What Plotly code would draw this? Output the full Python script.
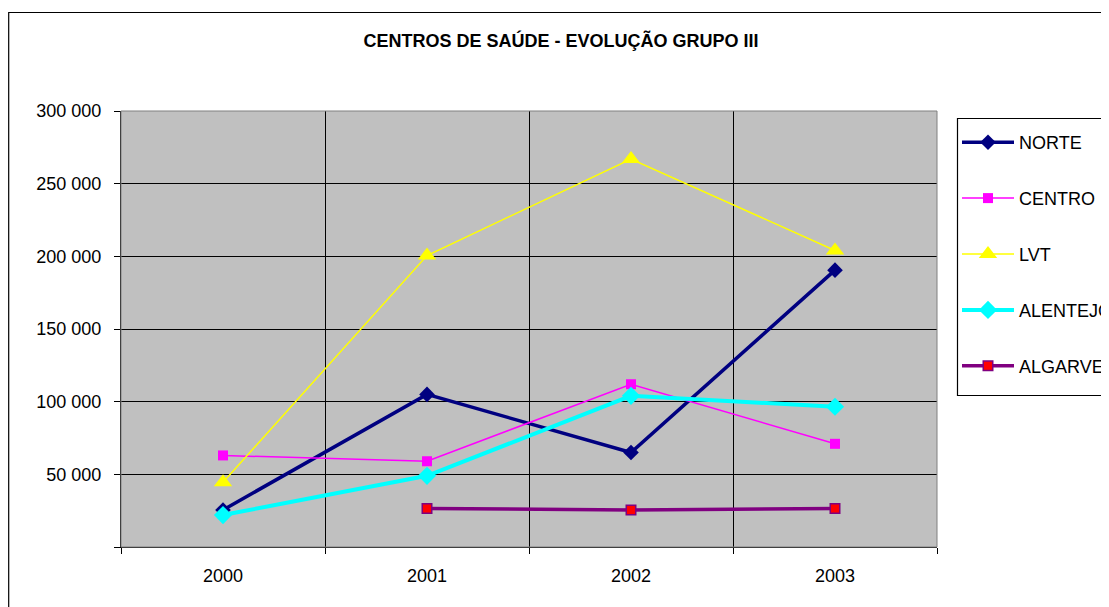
import plotly.graph_objects as go

years = ["2000", "2001", "2002", "2003"]
norte = [25500, 105000, 65000, 190500]
centro = [63000, 59000, 112000, 71000]
lvt = [44500, 200500, 267000, 204000]
alentejo = [22000, 49000, 104000, 96500]
algarve = [None, 26500, 25500, 26500]

y_ticks = [0, 50000, 100000, 150000, 200000, 250000, 300000]
y_ticktext = ["", "50 000", "100 000", "150 000", "200 000", "250 000", "300 000"]

FONT = "Liberation Sans, Arial, sans-serif"

OFF = 8  # page body margin
W, H = 1109 - OFF, 607 - OFF
# plot area in page pixel coordinates
PL, PR, PT, PB = 121, 937, 111, 547
L, R, T, B = PL - OFF, PR - OFF, PT - OFF, PB - OFF
pw, ph = R - L, B - T


def px_x(p):
    return (p - OFF - L) / pw


def px_y(p):
    return (B - (p - OFF)) / ph


series = [
    ("NORTE", norte, dict(color="#000080", width=3.5),
     dict(symbol="diamond", size=12, color="#000080")),
    ("CENTRO", centro, dict(color="#FF00FF", width=1.5),
     dict(symbol="square", size=10, color="#FF00FF")),
    ("LVT", lvt, dict(color="#FFFF00", width=1.5),
     dict(symbol="triangle-up", size=16, color="#FFFF00")),
    ("ALENTEJO", alentejo, dict(color="#00FFFF", width=4),
     dict(symbol="diamond", size=14, color="#00FFFF")),
    ("ALGARVE", algarve, dict(color="#800080", width=3.5),
     dict(symbol="square", size=9.5, color="#FF0000",
          line=dict(color="#800080", width=1.5))),
]

fig = go.Figure()
for name, vals, line, marker in series:
    fig.add_trace(go.Scatter(
        x=years, y=vals, name=name, mode="lines+markers",
        line=line, marker=marker, legendgroup=name,
        connectgaps=False,
    ))

fig.update_layout(
    width=W, height=H,
    margin=dict(l=L, r=W - R, t=T, b=H - B, autoexpand=False),
    paper_bgcolor="white",
    plot_bgcolor="#C0C0C0",
    font=dict(family=FONT, size=18, color="black"),
    title=dict(
        text="CENTROS DE SAÚDE - EVOLUÇÃO GRUPO III",
        x=(561 - OFF) / W, xanchor="center", xref="container",
        y=1 - (41 - OFF) / H, yanchor="middle", yref="container",
        font=dict(family=FONT, size=18, color="black", weight="bold"),
    ),
    showlegend=True,
    legend=dict(
        x=px_x(957), xanchor="left",
        y=px_y(124), yanchor="top",
        bgcolor="rgba(0,0,0,0)",
        borderwidth=0,
        font=dict(family=FONT, size=18, color="black"),
        traceorder="grouped",
        tracegroupgap=29.5,
        itemwidth=52,
    ),
    xaxis=dict(
        type="category",
        range=[-0.5, 3.5],
        tickson="boundaries",
        showgrid=True, gridcolor="#000000", gridwidth=1,
        ticks="outside", ticklen=6, tickcolor="black",
        showline=True, linecolor="black", linewidth=1,
        tickfont=dict(family=FONT, size=18, color="black"),
        ticklabelstandoff=12,
    ),
    yaxis=dict(
        range=[0, 300000],
        tickvals=y_ticks, ticktext=y_ticktext,
        showgrid=True, gridcolor="#000000", gridwidth=1,
        zeroline=False,
        ticks="outside", ticklen=6, tickcolor="black",
        showline=True, linecolor="black", linewidth=1,
        tickfont=dict(family=FONT, size=18, color="black"),
        ticklabelstandoff=9,
    ),
    shapes=[
        # plot area border (grey)
        dict(type="rect", xref="paper", yref="paper", x0=0, x1=1, y0=0, y1=1,
             line=dict(color="#808080", width=1), layer="above"),
        # outer chart border
        dict(type="rect", xref="paper", yref="paper",
             x0=px_x(8.7), x1=px_x(1130), y0=px_y(640), y1=px_y(12.5),
             line=dict(color="black", width=1.2)),
        # legend box
        dict(type="rect", xref="paper", yref="paper",
             x0=px_x(957.5), x1=px_x(1130), y0=px_y(395.5), y1=px_y(118.5),
             line=dict(color="black", width=1.2)),
    ],
)

fig.write_html("out.html")
